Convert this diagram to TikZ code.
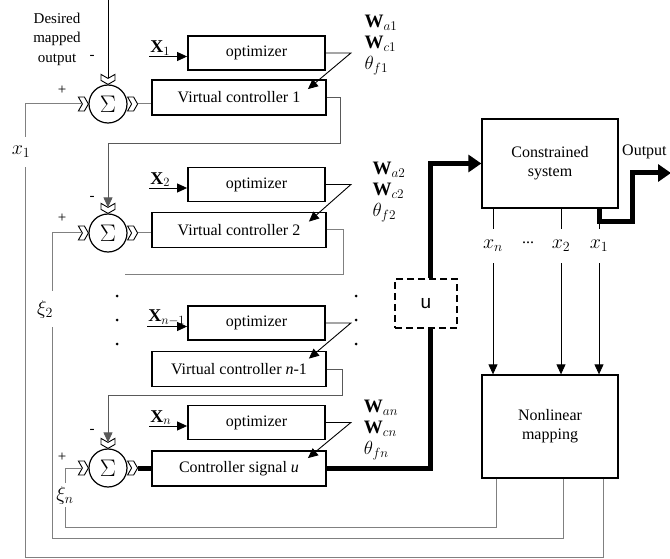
\RequirePackage{fix-cm}
\documentclass[tikz,border=0pt]{standalone}
\usepackage{fontspec}
\setmainfont{Liberation Serif}
\setsansfont{Liberation Sans}
\usepackage{amsmath,amssymb}
\usetikzlibrary{arrows.meta,positioning,calc}
\tikzset{
acopt/.style={rectangle,draw,line width=1.8pt,align=center,inner sep=2pt,minimum width=137pt,minimum height=34pt},
acvc/.style={rectangle,draw,line width=1.8pt,align=center,inner sep=2pt,minimum width=174pt,minimum height=35pt},
acplant/.style={rectangle,draw,line width=1.3pt,align=center,inner sep=2pt,minimum width=136pt},
acsig/.style={circle,draw,line width=1.2pt,minimum size=38pt,inner sep=0pt,font=\fontsize{24}{24}\selectfont},
acdash/.style={rectangle,draw,line width=1.4pt,dash pattern=on 7pt off 4pt,minimum width=62pt,minimum height=49pt,font=\sffamily\fontsize{19}{19}\selectfont},
acline/.style={line width=0.9pt},
acfb/.style={line width=1pt,draw=black!50},
acarr/.style={-{Triangle[length=10pt,width=9pt]},line width=0.9pt},
acthick/.style={line width=5pt},
acthickarr/.style={acthick,-{Triangle[length=13pt,width=17pt]}},
acpm/.style={inner sep=0pt,font=\fontsize{15}{15}\selectfont},
acw/.style={align=left,inner sep=0pt,font=\fontsize{19}{21}\selectfont},
acx/.style={inner sep=1pt,font=\fontsize{18}{20}\selectfont},
acstate/.style={inner ysep=11pt,inner xsep=1pt,font=\fontsize{20}{22}\selectfont},
acgap/.style={fill=white,inner xsep=3pt,inner ysep=9pt,font=\fontsize{20}{22}\selectfont},
acdot/.style={circle,fill,inner sep=0pt,minimum size=3pt},
acchev/.pic={\draw[fill=white,line width=0.9pt] (-10,7) -- (-4,7) -- (0,0) -- (-4,-7) -- (-10,-7) -- (-6,0) -- cycle;}
}
\begin{document}
\begin{tikzpicture}[
x=1pt,
y=-1pt,
every node/.style={font=\fontsize{16}{19}\selectfont}
]
\useasboundingbox (0,0) rectangle (670,559);
\clip (0,0) rectangle (670,559);
% summing junctions
\node[acsig] (sig1) at (108,104) {$\Sigma$};
\node[acsig] (sig2) at (108,233) {$\Sigma$};
\node[acsig] (sign) at (108,468) {$\Sigma$};
\foreach \s in {sig1,sig2,sign}{
  \pic at (\s.west) {acchev};
  \pic[rotate=-90] at (\s.north) {acchev};
  \pic at ([xshift=10pt]\s.east) {acchev};
}
\coordinate (s1in) at ([xshift=-6pt]sig1.west);
\coordinate (s2in) at ([xshift=-6pt]sig2.west);
\coordinate (snin) at ([xshift=-6pt]sign.west);
\coordinate (s1top) at ([yshift=6pt]sig1.north);
\coordinate (s2top) at ([yshift=6pt]sig2.north);
\coordinate (sntop) at ([yshift=6pt]sign.north);
\coordinate (s1out) at ([xshift=10pt]sig1.east);
\coordinate (s2out) at ([xshift=10pt]sig2.east);
\coordinate (snout) at ([xshift=10pt]sign.east);
% optimizers and controllers
\node[acopt] (opt1) at (256.5,53) {optimizer};
\node[acvc] (vc1) at (239,97.5) {Virtual controller 1};
\node[acopt] (opt2) at (256.5,184.5) {optimizer};
\node[acvc] (vc2) at (239,230) {Virtual controller 2};
\node[acopt] (optm) at (256.5,323) {optimizer};
\node[acvc] (vcm) at (239,369) {Virtual controller \textit{n}-1};
\node[acopt] (optn) at (256.5,422.5) {optimizer};
\node[acvc] (ctrl) at (239,468.5) {Controller signal \textit{u}};
% inputs of the optimizers
\node[acx,anchor=south west] (lx1) at ($(opt1.west)+(-38,3.5)$) {$\mathbf{X}_1$};
\node[acx,anchor=south west] (lx2) at ($(opt2.west)+(-38,3.5)$) {$\mathbf{X}_2$};
\node[acx,anchor=south west] (lxm) at ($(optm.west)+(-40,3.5)$) {$\mathbf{X}_{n-1}$};
\node[acx,anchor=south west] (lxn) at ($(optn.west)+(-38,3.5)$) {$\mathbf{X}_n$};
\foreach \l/\o in {lx1/opt1,lx2/opt2,lxm/optm,lxn/optn}
  \draw[acarr] (\l.south west) -- (\l.south west -| \o.west);
% tuned parameters
\node[acw] (wl1) at (381,45) {$\mathbf{W}_{a1}$\\$\mathbf{W}_{c1}$\\$\theta_{f1}$};
\node[acw] (wl2) at (389,192) {$\mathbf{W}_{a2}$\\$\mathbf{W}_{c2}$\\$\theta_{f2}$};
\node[acw] (wln) at (381,430) {$\mathbf{W}_{an}$\\$\mathbf{W}_{cn}$\\$\theta_{fn}$};
\draw[acarr] (opt1.east) -- ++(25,0) -- ($(vc1.north east)+(-19,10)$);
\draw[acarr] (opt2.east) -- ++(25,0) -- ($(vc2.north east)+(-18,10)$);
\draw[acarr] (optm.east) -- ++(25,0) -- ($(vcm.north east)+(-18,8)$);
\draw[acarr] (optn.east) -- ++(25,0) -- ($(ctrl.north east)+(-19,8)$);
% skipped stages
\foreach \y [count=\i] in {296,320,344}{
  \node[acdot] (dl\i) at (117,\y) {};
  \node[acdot] (dr\i) at (356,\y) {};
}
% reference and signs
\coordinate (ref) at (108,0);
\node[align=center,inner sep=0pt,font=\fontsize{15}{19.5}\selectfont] (desired) at (57,39) {Desired\\mapped\\output};
\node[acpm] (p1) at (62,90) {+};
\node[acpm] (m1) at (92,57) {-};
\node[acpm] (p2) at (62,218) {+};
\node[acpm] (m2) at (92,198) {-};
\node[acpm] (pn) at (62,457) {+};
\node[acpm] (mn) at (92,431) {-};
\draw[acline] (ref) -- (s1top);
% summing junction to controller
\draw[acfb] (s1out) -- (s1out -| vc1.west);
\draw[acfb] (s2out) -- (s2out -| vc2.west);
\draw[acthick] (snout) -- (snout -| ctrl.west);
% controller to next junction
\coordinate (j1) at (340,143);
\coordinate (j2) at (343,274);
\coordinate (cut2) at (125,274);
\coordinate (j3) at (342,395);
\draw[acfb,acarr,black!65] (vc1.east) -| (j1) -| (s2top);
\draw[acfb] (vc2.east) -| (j2) -- (cut2);
\draw[acfb,acarr,black!65] (vcm.east) -| (j3) -| (sntop);
% plant
\node[acdash] (ubox) at (426,303.5) {u};
\node[acplant,minimum height=89pt] (csys) at (550,163.5) {Constrained\\system};
\node[acplant,minimum height=103pt] (nlmap) at (550,426.5) {Nonlinear\\mapping};
\draw[acthick] (ctrl.east) -| ([xshift=4pt]ubox.south);
\draw[acthickarr] ([xshift=4pt]ubox.north) |- (csys.west);
\node[inner sep=0pt,anchor=west] (outlab) at (622,152) {Output};
\coordinate (outp) at (671,173);
\coordinate (oj) at (632,222);
% measured states
\node[acstate] (mxn) at (493,246) {$x_n$};
\node[acstate,font=\fontsize{16}{19}\selectfont] (mdots) at (528,243) {...};
\node[acstate] (mx2) at (561,246) {$x_2$};
\node[acstate] (mx1) at (599,246) {$x_1$};
\foreach \l in {mxn,mx2,mx1}{
  \draw[acline] (csys.south -| \l) -- (\l.north);
  \draw[acarr] (\l.south) -- (nlmap.north -| \l);
}
\draw[acthickarr] (csys.south -| mx1) |- (oj) |- (outp);
% feedback of the mapped states
\coordinate (fb1) at (603,557);
\coordinate (fb2) at (563,538);
\coordinate (fbn) at (496,527);
\coordinate (c1) at (25,557);
\coordinate (c2) at (52,538);
\coordinate (cn) at (65,527);
\draw[acfb] (nlmap.south -| fb1) -- (fb1) -- (c1) -- node[acgap,pos=0.894,xshift=-4pt]{$x_1$} (c1 |- s1in) -- (s1in);
\draw[acfb] (nlmap.south -| fb2) -- (fb2) -- (c2) -- node[acgap,pos=0.75,xshift=-7pt]{$\xi_2$} (c2 |- s2in) -- (s2in);
\draw[acfb] (nlmap.south -| fbn) -- (fbn) -- (cn) -- node[acgap,pos=0.54,inner ysep=3pt]{$\xi_n$} (cn |- snin) -- (snin);
\end{tikzpicture}
\end{document}
